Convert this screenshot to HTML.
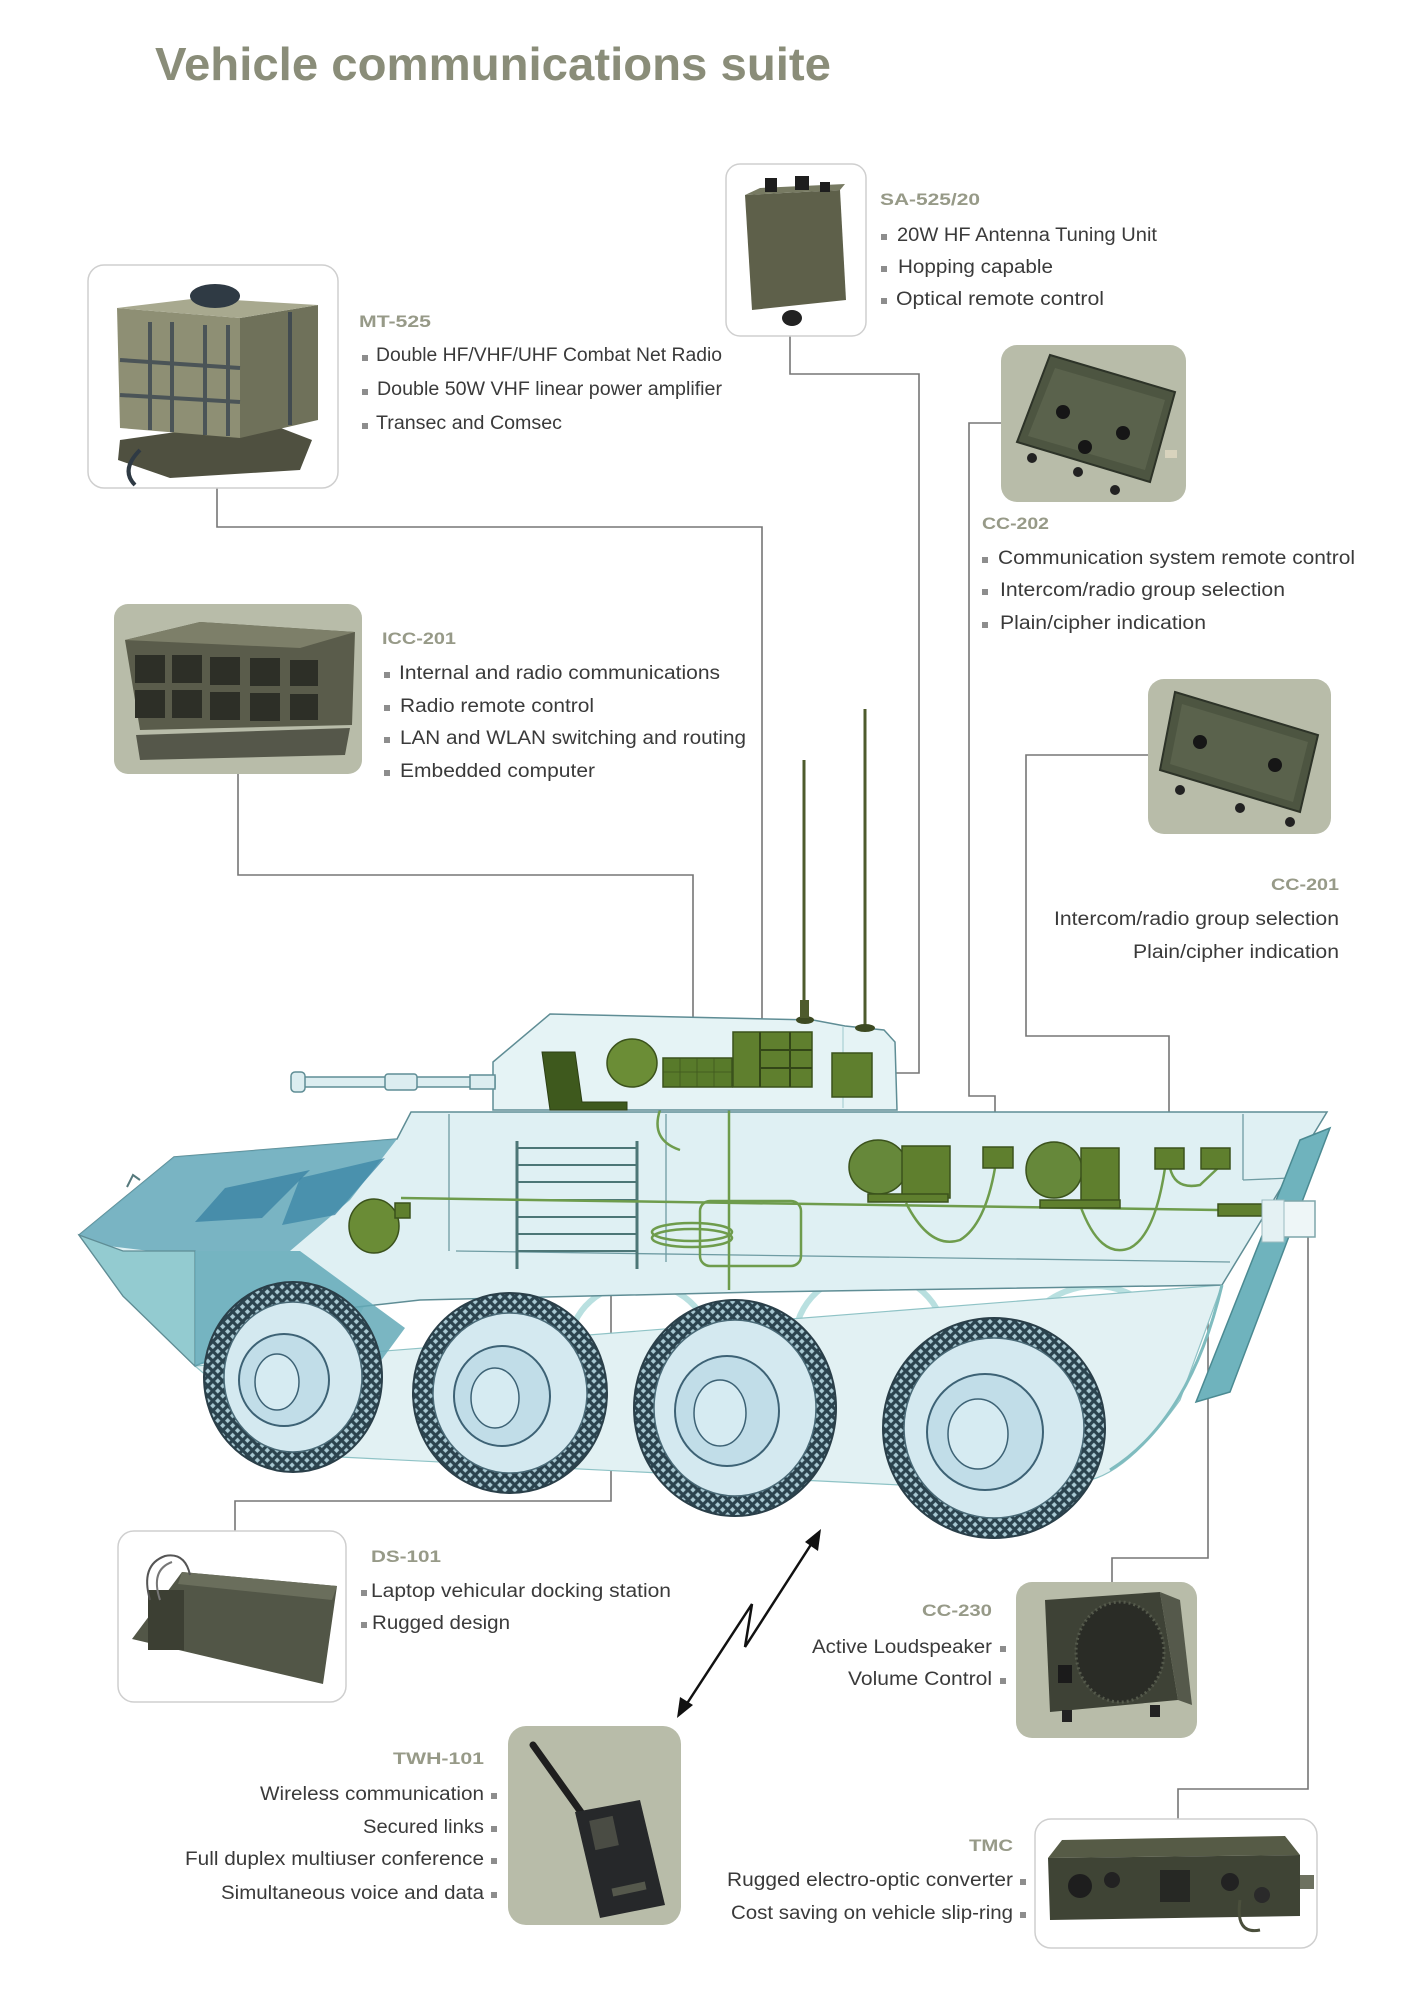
<!DOCTYPE html>
<html><head><meta charset="utf-8"><style>
html,body{margin:0;padding:0;background:#fff;}
svg{display:block;}
.t{font-family:"Liberation Sans",sans-serif;font-size:19px;fill:#3a3a3a;}
.h{font-family:"Liberation Sans",sans-serif;font-size:17px;font-weight:bold;fill:#979a88;}
.c{fill:none;stroke:#767676;stroke-width:1.6;}
.ol{stroke:#5f8d95;stroke-width:1.5;}
.g{fill:#5f7f2e;stroke:#3b521c;stroke-width:1.5;}
.b{fill:#8d8d8d;}
</style></head><body>
<svg width="1427" height="2000" viewBox="0 0 1427 2000" xmlns="http://www.w3.org/2000/svg">
<defs>
 <pattern id="tread" width="7" height="7" patternUnits="userSpaceOnUse" patternTransform="rotate(45)">
  <rect width="7" height="7" fill="#2b434e"/>
  <rect x="1.6" y="1.6" width="3.8" height="3.8" fill="#a9c9d3"/>
 </pattern>
</defs>
<rect width="1427" height="2000" fill="#fff"/>
<text x="155" y="80" font-family="Liberation Sans, sans-serif" font-size="46" font-weight="bold" fill="#8a8d79" textLength="676" lengthAdjust="spacingAndGlyphs">Vehicle communications suite</text>

<!-- connectors -->
<path class="c" d="M217,488 V527 H762 V1040"/>
<path class="c" d="M790,336 V374 H919 V1073 H872"/>
<path class="c" d="M1001,423 H969 V1096 H995 V1148"/>
<path class="c" d="M1148,755 H1026 V1036 H1169 V1148"/>
<path class="c" d="M238,774 V875 H693 V1060"/>
<path class="c" d="M235,1531 V1501 H611 V1112"/>
<path class="c" d="M1112,1582 V1558 H1208 V1168"/>
<path class="c" d="M1178,1819 V1789 H1308 V1237"/>

<!-- VEHICLE -->
<g>
 <!-- ghost wheels -->
 <g fill="none" stroke="#7fc6c6" stroke-width="6" opacity="0.55">
  <ellipse cx="870" cy="1340" rx="75" ry="68"/>
  <ellipse cx="1095" cy="1368" rx="82" ry="82"/>
  <ellipse cx="640" cy="1345" rx="70" ry="62"/>
  <ellipse cx="420" cy="1330" rx="65" ry="58"/>
 </g>
 <!-- lower belly -->
 <path d="M195,1366 L1222,1285 L1180,1400 Q1130,1470 1090,1480 L900,1485 L300,1455 Z" fill="#e2f1f3" stroke="#8fc3c6" stroke-width="1.2"/>
 <!-- hull body -->
 <path class="ol" d="M411,1112 L1327,1112 L1222,1285 L760,1292 L420,1300 L330,1310 L195,1366 L123,1296 L79,1235 L174,1157 L397,1139 Z" fill="#dff0f3"/>
 <!-- front patches -->
 <path d="M174,1157 L397,1139 L350,1200 L290,1251 L150,1251 L100,1245 L79,1235 Z" fill="#6eadbe" opacity="0.9"/>
 <path d="M225,1188 L310,1170 L262,1218 L195,1222 Z" fill="#3e86a6" opacity="0.85"/>
 <path d="M300,1178 L385,1158 L335,1215 L282,1225 Z" fill="#3f88a8" opacity="0.8"/>
 <path d="M79,1235 L123,1251 L195,1251 L195,1366 L123,1296 Z" fill="#93cbd0" stroke="#5f8d95" stroke-width="1.2"/>
 <path d="M195,1251 L300,1251 L405,1328 L380,1362 L330,1332 L195,1366 Z" fill="#63a9b7" opacity="0.85"/>
 <path d="M127,1187 L133,1175 L140,1180" fill="none" stroke="#55797c" stroke-width="2"/>
 <!-- panel lines -->
 <g stroke="#6f9ca3" stroke-width="1.3" fill="none">
  <line x1="449" y1="1114" x2="449" y2="1251"/>
  <line x1="666" y1="1114" x2="666" y2="1262"/>
  <line x1="456" y1="1251" x2="1230" y2="1262"/>
  <line x1="1243" y1="1114" x2="1243" y2="1180"/>
  <line x1="1243" y1="1180" x2="1290" y2="1178"/>
 </g>
 <!-- ladder -->
 <g stroke="#4c7676" fill="none">
  <line x1="517" y1="1141" x2="517" y2="1269" stroke-width="3"/>
  <line x1="637" y1="1141" x2="637" y2="1269" stroke-width="3"/>
  <g stroke-width="2">
   <line x1="517" y1="1148" x2="637" y2="1148"/><line x1="517" y1="1165" x2="637" y2="1165"/>
   <line x1="517" y1="1182" x2="637" y2="1182"/><line x1="517" y1="1200" x2="637" y2="1200"/>
   <line x1="517" y1="1217" x2="637" y2="1217"/><line x1="517" y1="1234" x2="637" y2="1234"/>
   <line x1="517" y1="1251" x2="637" y2="1251"/>
  </g>
 </g>
 <!-- green cables -->
 <g fill="none" stroke="#6e9c4c" stroke-width="2.5">
  <line x1="401" y1="1198" x2="1218" y2="1210"/>
  <rect x="700" y="1201" width="101" height="65" rx="10"/>
  <ellipse cx="692" cy="1232" rx="40" ry="9"/>
  <ellipse cx="692" cy="1238" rx="40" ry="9"/>
  <line x1="729" y1="1087" x2="729" y2="1290"/>
  <path d="M906,1203 Q930,1250 960,1240 Q985,1225 995,1168"/>
  <path d="M1080,1205 Q1100,1260 1130,1248 Q1155,1235 1165,1168"/>
  <path d="M1170,1168 Q1175,1190 1200,1185 L1218,1168"/>
  <path d="M660,1110 Q650,1140 680,1150"/>
 </g>
 <!-- hull green components -->
 <ellipse class="g" cx="374" cy="1226" rx="25" ry="27" style="fill:#6a8c36"/>
 <rect class="g" x="395" y="1203" width="15" height="15"/>
 <ellipse class="g" cx="878" cy="1167" rx="29" ry="27" style="fill:#66883a"/>
 <rect class="g" x="902" y="1146" width="48" height="52"/>
 <rect class="g" x="868" y="1194" width="80" height="8"/>
 <rect class="g" x="983" y="1147" width="30" height="21"/>
 <ellipse class="g" cx="1054" cy="1170" rx="28" ry="28" style="fill:#66883a"/>
 <rect class="g" x="1081" y="1148" width="38" height="57"/>
 <rect class="g" x="1040" y="1200" width="80" height="8"/>
 <rect class="g" x="1155" y="1148" width="29" height="21"/>
 <rect class="g" x="1201" y="1148" width="29" height="21"/>
 <rect class="g" x="1218" y="1204" width="44" height="12"/>
 <!-- rear plate -->
 <path d="M1300,1140 L1330,1128 L1230,1392 L1196,1402 Z" fill="#6fb3bd" stroke="#4b8a92" stroke-width="1.5"/>
 <path d="M1222,1285 Q1190,1420 1110,1470" fill="none" stroke="#7fbcbf" stroke-width="3"/>
 <rect x="1281" y="1201" width="34" height="36" fill="#eef6f7" stroke="#7fa6aa" stroke-width="1.5"/>
 <rect x="1262" y="1200" width="22" height="42" fill="#e4f1f3" stroke="#9bbcc0" stroke-width="1"/>
 <!-- turret -->
 <path class="ol" d="M493,1062 L550,1014 L813,1020 L845,1026 L884,1030 L895,1042 L897,1110 L493,1110 Z" fill="#e5f3f5"/>
 <line x1="843" y1="1026" x2="843" y2="1108" stroke="#a9cfd3" stroke-width="1.2"/>
 <!-- gun -->
 <g class="ol" fill="#dcedf0">
  <rect x="300" y="1077" width="195" height="10"/>
  <rect x="291" y="1072" width="14" height="20" rx="4"/>
  <rect x="385" y="1074" width="32" height="16" rx="3"/>
  <rect x="470" y="1075" width="25" height="14"/>
 </g>
 <!-- antennas -->
 <line x1="804" y1="760" x2="804" y2="1020" stroke="#4e5b2d" stroke-width="3"/>
 <line x1="865" y1="709" x2="865" y2="1028" stroke="#4e5b2d" stroke-width="3"/>
 <ellipse cx="805" cy="1020" rx="9" ry="4" fill="#3d4a22"/>
 <rect x="800" y="1000" width="9" height="18" fill="#4e5b2d"/>
 <ellipse cx="865" cy="1028" rx="10" ry="4" fill="#3d4a22"/>
 <!-- turret components -->
 <path d="M542,1052 L575,1052 L582,1102 L627,1102 L627,1110 L550,1110 Z" fill="#3e591d" stroke="#2c3f14" stroke-width="1"/>
 <ellipse class="g" cx="632" cy="1063" rx="25" ry="24" style="fill:#6b8d36"/>
 <rect class="g" x="663" y="1058" width="69" height="29" style="fill:#587a2a"/>
 <g stroke="#3b521c" stroke-width="1" opacity="0.7">
  <line x1="680" y1="1058" x2="680" y2="1087"/><line x1="697" y1="1058" x2="697" y2="1087"/><line x1="714" y1="1058" x2="714" y2="1087"/>
  <line x1="663" y1="1072" x2="732" y2="1072"/>
 </g>
 <rect class="g" x="733" y="1032" width="79" height="55"/>
 <g stroke="#324617" stroke-width="2"><line x1="760" y1="1032" x2="760" y2="1087"/><line x1="760" y1="1050" x2="812" y2="1050"/><line x1="760" y1="1068" x2="812" y2="1068"/><line x1="790" y1="1032" x2="790" y2="1087"/></g>
 <rect class="g" x="832" y="1053" width="40" height="44"/>
 <!-- wheels -->
 <g>
  <ellipse cx="293" cy="1377" rx="79" ry="85" fill="#d4e9f0" stroke="url(#tread)" stroke-width="20"/>
  <ellipse cx="293" cy="1377" rx="89" ry="95" fill="none" stroke="#2a3f49" stroke-width="2"/>
  <ellipse cx="293" cy="1377" rx="69" ry="75" fill="none" stroke="#4a6a77" stroke-width="1.5"/>
  <ellipse cx="284" cy="1380" rx="45" ry="46" fill="#c1dde8" stroke="#3d6275" stroke-width="2"/>
  <ellipse cx="277" cy="1382" rx="22" ry="28" fill="#d6ebf2" stroke="#3d6275" stroke-width="1.5"/>
 </g>
 <g>
  <ellipse cx="510" cy="1393" rx="87" ry="90" fill="#d4e9f0" stroke="url(#tread)" stroke-width="20"/>
  <ellipse cx="510" cy="1393" rx="97" ry="100" fill="none" stroke="#2a3f49" stroke-width="2"/>
  <ellipse cx="510" cy="1393" rx="77" ry="80" fill="none" stroke="#4a6a77" stroke-width="1.5"/>
  <ellipse cx="502" cy="1396" rx="48" ry="50" fill="#c1dde8" stroke="#3d6275" stroke-width="2"/>
  <ellipse cx="495" cy="1398" rx="24" ry="30" fill="#d6ebf2" stroke="#3d6275" stroke-width="1.5"/>
 </g>
 <g>
  <ellipse cx="735" cy="1408" rx="91" ry="98" fill="#d4e9f0" stroke="url(#tread)" stroke-width="20"/>
  <ellipse cx="735" cy="1408" rx="101" ry="108" fill="none" stroke="#2a3f49" stroke-width="2"/>
  <ellipse cx="735" cy="1408" rx="81" ry="88" fill="none" stroke="#4a6a77" stroke-width="1.5"/>
  <ellipse cx="727" cy="1411" rx="52" ry="55" fill="#c1dde8" stroke="#3d6275" stroke-width="2"/>
  <ellipse cx="720" cy="1413" rx="26" ry="33" fill="#d6ebf2" stroke="#3d6275" stroke-width="1.5"/>
 </g>
 <g>
  <ellipse cx="994" cy="1428" rx="101" ry="100" fill="#d4e9f0" stroke="url(#tread)" stroke-width="21"/>
  <ellipse cx="994" cy="1428" rx="111" ry="110" fill="none" stroke="#2a3f49" stroke-width="2"/>
  <ellipse cx="994" cy="1428" rx="90" ry="90" fill="none" stroke="#4a6a77" stroke-width="1.5"/>
  <ellipse cx="985" cy="1432" rx="58" ry="58" fill="#c1dde8" stroke="#3d6275" stroke-width="2"/>
  <ellipse cx="978" cy="1434" rx="30" ry="35" fill="#d6ebf2" stroke="#3d6275" stroke-width="1.5"/>
 </g>
</g>

<!-- lightning arrow -->
<polyline points="812,1543 745,1647 752,1604 686,1705" fill="none" stroke="#111" stroke-width="2.5"/>
<polygon points="821,1529 818,1551 805,1542" fill="#111"/>
<polygon points="677,1718 680,1697 693,1705" fill="#111"/>

<!-- MT-525 -->
<rect x="88" y="265" width="250" height="223" rx="16" fill="#fff" stroke="#cfcfcf" stroke-width="1.5"/>
<path d="M120,440 L260,420 L312,440 L300,470 L170,478 L118,460 Z" fill="#4f5040"/>
<path d="M117,308 L240,318 L240,438 L120,428 Z" fill="#8e8f74"/>
<path d="M240,318 L318,305 L318,420 L240,438 Z" fill="#6f715a"/>
<path d="M117,308 L200,298 L318,305 L240,318 Z" fill="#a8a98f"/>
<ellipse cx="215" cy="296" rx="25" ry="12" fill="#2f3a44"/>
<g stroke="#2f3c4c" stroke-width="4" opacity="0.7">
 <line x1="150" y1="322" x2="150" y2="430"/><line x1="172" y1="322" x2="172" y2="432"/>
 <line x1="205" y1="325" x2="205" y2="435"/><line x1="228" y1="325" x2="228" y2="436"/>
 <line x1="120" y1="360" x2="240" y2="368"/><line x1="120" y1="395" x2="240" y2="402"/>
 <line x1="290" y1="312" x2="290" y2="425"/>
</g>
<path d="M140,450 Q120,470 135,485" fill="none" stroke="#2f3a44" stroke-width="4"/>
<text class="h" x="359" y="327" textLength="72" lengthAdjust="spacingAndGlyphs">MT-525</text>
<rect class="b" x="362" y="355" width="6" height="6"/><text class="t" x="376" y="361" textLength="346" lengthAdjust="spacingAndGlyphs">Double HF/VHF/UHF Combat Net Radio</text>
<rect class="b" x="362" y="389" width="6" height="6"/><text class="t" x="377" y="395" textLength="345" lengthAdjust="spacingAndGlyphs">Double 50W VHF linear power amplifier</text>
<rect class="b" x="362" y="423" width="6" height="6"/><text class="t" x="376" y="429" textLength="186" lengthAdjust="spacingAndGlyphs">Transec and Comsec</text>

<!-- SA-525/20 -->
<rect x="726" y="164" width="140" height="172" rx="14" fill="#fff" stroke="#cfcfcf" stroke-width="1.5"/>
<path d="M745,195 L840,190 L846,300 L752,310 Z" fill="#5e604a"/>
<path d="M745,195 L760,188 L845,184 L840,190 Z" fill="#777a62"/>
<rect x="765" y="178" width="12" height="14" fill="#1e1e1e"/><rect x="795" y="176" width="14" height="14" fill="#1e1e1e"/><rect x="820" y="182" width="10" height="10" fill="#1e1e1e"/>
<ellipse cx="792" cy="318" rx="10" ry="8" fill="#222"/>
<text class="h" x="880" y="205" textLength="100" lengthAdjust="spacingAndGlyphs">SA-525/20</text>
<rect class="b" x="881" y="234" width="6" height="6"/><text class="t" x="897" y="241" textLength="260" lengthAdjust="spacingAndGlyphs">20W HF Antenna Tuning Unit</text>
<rect class="b" x="881" y="266" width="6" height="6"/><text class="t" x="898" y="273" textLength="155" lengthAdjust="spacingAndGlyphs">Hopping capable</text>
<rect class="b" x="881" y="298" width="6" height="6"/><text class="t" x="896" y="305" textLength="208" lengthAdjust="spacingAndGlyphs">Optical remote control</text>

<!-- CC-202 -->
<rect x="1001" y="345" width="185" height="157" rx="16" fill="#b8bca9"/>
<path d="M1050,355 L1175,392 L1150,482 L1017,442 Z" fill="#4d5541" stroke="#2d3328" stroke-width="2"/>
<path d="M1055,368 L1165,400 L1145,470 L1028,436 Z" fill="#5a624c"/>
<circle cx="1063" cy="412" r="7" fill="#161616"/><circle cx="1123" cy="433" r="7" fill="#161616"/><circle cx="1085" cy="447" r="7" fill="#161616"/>
<circle cx="1032" cy="458" r="5" fill="#222"/><circle cx="1078" cy="472" r="5" fill="#222"/><circle cx="1115" cy="490" r="5" fill="#222"/>
<rect x="1165" y="450" width="12" height="8" fill="#d8d3bd"/>
<text class="h" x="982" y="529" textLength="67" lengthAdjust="spacingAndGlyphs">CC-202</text>
<rect class="b" x="982" y="557" width="6" height="6"/><text class="t" x="998" y="564" textLength="357" lengthAdjust="spacingAndGlyphs">Communication system remote control</text>
<rect class="b" x="982" y="589" width="6" height="6"/><text class="t" x="1000" y="596" textLength="285" lengthAdjust="spacingAndGlyphs">Intercom/radio group selection</text>
<rect class="b" x="982" y="622" width="6" height="6"/><text class="t" x="1000" y="629" textLength="206" lengthAdjust="spacingAndGlyphs">Plain/cipher indication</text>

<!-- ICC-201 -->
<rect x="114" y="604" width="248" height="170" rx="14" fill="#b8bca9"/>
<path d="M136,735 L350,728 L345,755 L140,760 Z" fill="#55574a"/>
<path d="M125,640 L200,622 L355,632 L352,725 L140,730 Z" fill="#5a5c4b"/>
<path d="M125,640 L200,622 L355,632 L300,648 Z" fill="#7d7f69"/>
<g fill="#2d2f27">
 <rect x="135" y="655" width="30" height="28"/><rect x="172" y="655" width="30" height="28"/><rect x="210" y="657" width="30" height="28"/><rect x="250" y="658" width="30" height="28"/><rect x="290" y="660" width="28" height="26"/>
 <rect x="135" y="690" width="30" height="28"/><rect x="172" y="690" width="30" height="28"/><rect x="210" y="692" width="30" height="28"/><rect x="250" y="693" width="30" height="28"/><rect x="290" y="694" width="28" height="26"/>
</g>
<text class="h" x="382" y="644" textLength="74" lengthAdjust="spacingAndGlyphs">ICC-201</text>
<rect class="b" x="384" y="672" width="6" height="6"/><text class="t" x="399" y="679" textLength="321" lengthAdjust="spacingAndGlyphs">Internal and radio communications</text>
<rect class="b" x="384" y="705" width="6" height="6"/><text class="t" x="400" y="712" textLength="194" lengthAdjust="spacingAndGlyphs">Radio remote control</text>
<rect class="b" x="384" y="737" width="6" height="6"/><text class="t" x="400" y="744" textLength="346" lengthAdjust="spacingAndGlyphs">LAN and WLAN switching and routing</text>
<rect class="b" x="384" y="770" width="6" height="6"/><text class="t" x="400" y="777" textLength="195" lengthAdjust="spacingAndGlyphs">Embedded computer</text>

<!-- CC-201 -->
<rect x="1148" y="679" width="183" height="155" rx="16" fill="#b8bca9"/>
<path d="M1175,692 L1318,735 L1300,812 L1160,770 Z" fill="#4d5541" stroke="#2d3328" stroke-width="2"/>
<path d="M1182,704 L1308,742 L1293,802 L1170,764 Z" fill="#5a624c"/>
<circle cx="1200" cy="742" r="7" fill="#161616"/><circle cx="1275" cy="765" r="7" fill="#161616"/>
<circle cx="1180" cy="790" r="5" fill="#222"/><circle cx="1240" cy="808" r="5" fill="#222"/><circle cx="1290" cy="822" r="5" fill="#222"/>
<text class="h" x="1271" y="890" textLength="68" lengthAdjust="spacingAndGlyphs">CC-201</text>
<text class="t" x="1054" y="925" textLength="285" lengthAdjust="spacingAndGlyphs">Intercom/radio group selection</text>
<text class="t" x="1133" y="958" textLength="206" lengthAdjust="spacingAndGlyphs">Plain/cipher indication</text>

<!-- DS-101 -->
<rect x="118" y="1531" width="228" height="171" rx="16" fill="#fff" stroke="#cfcfcf" stroke-width="1.5"/>
<path d="M182,1572 L337,1586 L323,1684 L132,1639 Z" fill="#525647"/>
<path d="M182,1572 L337,1586 L332,1600 L178,1584 Z" fill="#6a6e5c"/>
<rect x="148" y="1590" width="36" height="60" fill="#3c3f33"/>
<path d="M150,1600 Q140,1565 165,1556 Q185,1552 190,1575" fill="none" stroke="#555" stroke-width="2"/>
<path d="M160,1600 Q150,1570 172,1562" fill="none" stroke="#777" stroke-width="2"/>
<text class="h" x="371" y="1562" textLength="70" lengthAdjust="spacingAndGlyphs">DS-101</text>
<rect class="b" x="361" y="1590" width="6" height="6"/><text class="t" x="371" y="1597" textLength="300" lengthAdjust="spacingAndGlyphs">Laptop vehicular docking station</text>
<rect class="b" x="361" y="1622" width="6" height="6"/><text class="t" x="372" y="1629" textLength="138" lengthAdjust="spacingAndGlyphs">Rugged design</text>

<!-- CC-230 -->
<rect x="1016" y="1582" width="181" height="156" rx="16" fill="#b8bca9"/>
<path d="M1045,1600 L1160,1592 L1178,1700 L1050,1712 Z" fill="#3e4236"/>
<path d="M1160,1592 L1180,1600 L1192,1705 L1178,1700 Z" fill="#55594b"/>
<ellipse cx="1120" cy="1652" rx="44" ry="50" fill="#2a2c26" stroke="#555a4c" stroke-width="3" stroke-dasharray="2 3"/>
<rect x="1058" y="1665" width="14" height="18" fill="#1b1b1b"/>
<rect x="1062" y="1710" width="10" height="12" fill="#222"/><rect x="1150" y="1705" width="10" height="12" fill="#222"/>
<text class="h" x="922" y="1616" textLength="70" lengthAdjust="spacingAndGlyphs">CC-230</text>
<text class="t" x="812" y="1653" textLength="180" lengthAdjust="spacingAndGlyphs">Active Loudspeaker</text><rect class="b" x="1000" y="1646" width="6" height="6"/>
<text class="t" x="848" y="1685" textLength="144" lengthAdjust="spacingAndGlyphs">Volume Control</text><rect class="b" x="1000" y="1678" width="6" height="6"/>

<!-- TWH-101 -->
<rect x="508" y="1726" width="173" height="199" rx="18" fill="#b8bca9"/>
<line x1="533" y1="1745" x2="588" y2="1822" stroke="#1e1e1e" stroke-width="7" stroke-linecap="round"/>
<path d="M575,1812 L640,1800 L665,1905 L600,1918 Z" fill="#26282a"/>
<rect x="592" y="1818" width="24" height="30" fill="#4a4c44" transform="rotate(-12 604 1833)"/>
<rect x="612" y="1885" width="34" height="8" fill="#55584c" transform="rotate(-12 629 1889)"/>
<text class="h" x="393" y="1764" textLength="91" lengthAdjust="spacingAndGlyphs">TWH-101</text>
<text class="t" x="260" y="1800" textLength="224" lengthAdjust="spacingAndGlyphs">Wireless communication</text><rect class="b" x="491" y="1793" width="6" height="6"/>
<text class="t" x="363" y="1833" textLength="121" lengthAdjust="spacingAndGlyphs">Secured links</text><rect class="b" x="491" y="1826" width="6" height="6"/>
<text class="t" x="185" y="1865" textLength="299" lengthAdjust="spacingAndGlyphs">Full duplex multiuser conference</text><rect class="b" x="491" y="1858" width="6" height="6"/>
<text class="t" x="221" y="1899" textLength="263" lengthAdjust="spacingAndGlyphs">Simultaneous voice and data</text><rect class="b" x="491" y="1892" width="6" height="6"/>

<!-- TMC -->
<rect x="1035" y="1819" width="282" height="129" rx="16" fill="#fff" stroke="#cfcfcf" stroke-width="1.5"/>
<path d="M1062,1840 L1285,1836 L1300,1855 L1048,1858 Z" fill="#565b46"/>
<path d="M1048,1858 L1300,1855 L1300,1916 L1050,1920 Z" fill="#3f4435"/>
<circle cx="1080" cy="1886" r="12" fill="#1e1e1e"/>
<circle cx="1112" cy="1880" r="8" fill="#222"/>
<rect x="1160" y="1870" width="30" height="32" fill="#262824"/>
<circle cx="1230" cy="1882" r="9" fill="#222"/>
<circle cx="1262" cy="1895" r="8" fill="#2a2a2a"/>
<path d="M1240,1900 Q1235,1935 1260,1930" fill="none" stroke="#4a4f3c" stroke-width="3"/>
<rect x="1300" y="1875" width="14" height="14" fill="#6d7160"/>
<text class="h" x="969" y="1851" textLength="44" lengthAdjust="spacingAndGlyphs">TMC</text>
<text class="t" x="727" y="1886" textLength="286" lengthAdjust="spacingAndGlyphs">Rugged electro-optic converter</text><rect class="b" x="1020" y="1879" width="6" height="6"/>
<text class="t" x="731" y="1919" textLength="282" lengthAdjust="spacingAndGlyphs">Cost saving on vehicle slip-ring</text><rect class="b" x="1020" y="1912" width="6" height="6"/>
</svg>
</body></html>
